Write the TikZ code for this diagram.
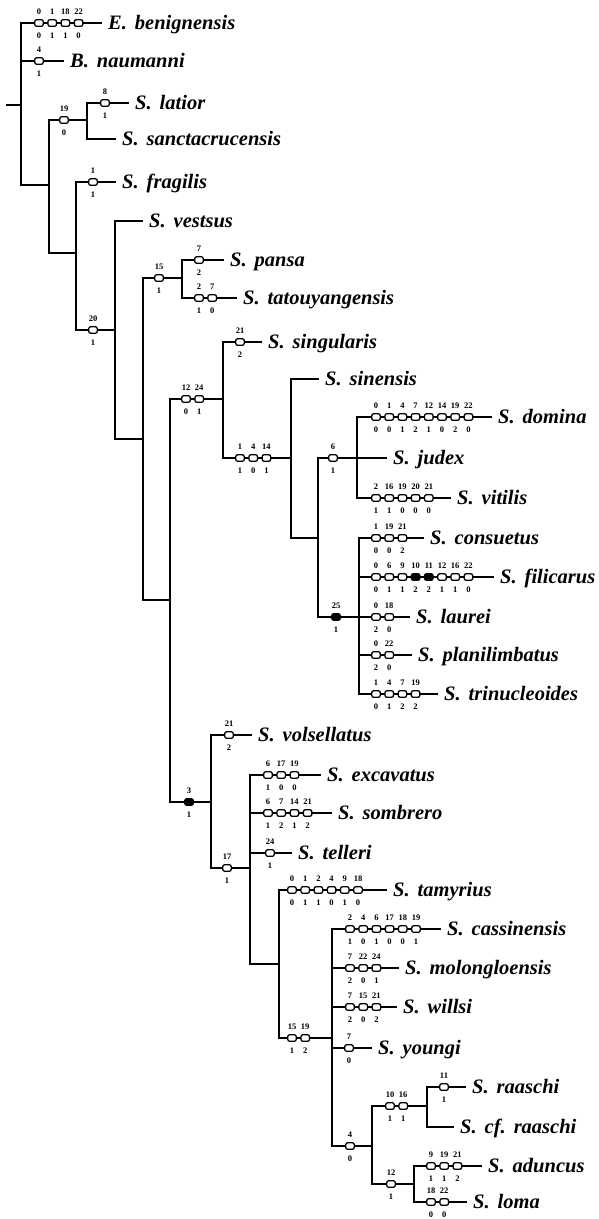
\documentclass[tikz,border=0pt]{standalone}
\usepackage{fontspec}
\setmainfont{Liberation Serif}
\usetikzlibrary{backgrounds}
\newcommand{\gap}{\hspace{8pt}}
\newcommand{\crow}[4]{%
  \foreach \topn/\botn/\kind [count=\i] in {#4} {%
    \pgfmathsetmacro{\xx}{#2+13.2*(\i-1)}%
    \node[\kind] (#1\i) at (\xx,#3) {};
    \node[num] (#1t\i) at (\xx,#3-11.5) {\topn};
    \node[num] (#1b\i) at (\xx,#3+13) {\botn};
  }}
\begin{document}
\begin{tikzpicture}[
  x=1pt,y=-1pt,
  br/.style={line width=1.4pt, line cap=rect},
  ob/.style={draw, line width=1.3pt, fill=white, rounded corners=2pt, minimum width=8.5pt, minimum height=6.6pt, inner sep=0pt},
  fb/.style={ob, fill=black},
  num/.style={font=\fontsize{8.5}{8.5}\selectfont\bfseries, text height=5.8pt, text depth=0pt, inner sep=0pt},
  tx/.style={anchor=west, font=\fontsize{20.5}{20.5}\selectfont\bfseries\itshape, text height=13.2pt, text depth=0pt, inner ysep=0pt, inner xsep=7pt},
]
\useasboundingbox (0,0) rectangle (598,1219);

% ---- junction coordinates ----
\coordinate (r0) at (7,105);
\coordinate (r1) at (21,105);
\coordinate (ben-s) at (21,23);
\coordinate (nau-s) at (21,61);
\coordinate (v1b) at (21,185);
\coordinate (v2m) at (49,185);
\coordinate (nA-s) at (49,120);
\coordinate (v2b) at (49,253);
\coordinate (nA-e) at (87,120);
\coordinate (lat-s) at (87,103);
\coordinate (san-s) at (87,139);
\coordinate (fra-s) at (76,182);
\coordinate (v3m) at (76,253);
\coordinate (nB-s) at (76,330);
\coordinate (nB-e) at (115,330);
\coordinate (ves-s) at (115,221);
\coordinate (v4b) at (115,439);
\coordinate (v5m) at (143,439);
\coordinate (nC-s) at (143,278);
\coordinate (v5b) at (143,600);
\coordinate (nC-e) at (182,278);
\coordinate (pan-s) at (182,260);
\coordinate (tat-s) at (182,298);
\coordinate (v6m) at (170,600);
\coordinate (nD-s) at (170,399);
\coordinate (nH-s) at (170,802);
\coordinate (nD-e) at (223,399);
\coordinate (sing-s) at (223,342);
\coordinate (nE-s) at (223,458);
\coordinate (nE-e) at (291,458);
\coordinate (sin-s) at (291,379);
\coordinate (v8b) at (291,538);
\coordinate (v9m) at (318,538);
\coordinate (nF-s) at (318,458);
\coordinate (nG-s) at (318,617);
\coordinate (dom-s) at (357,417);
\coordinate (vit-s) at (357,498);
\coordinate (con-s) at (359,538);
\coordinate (tri-s) at (359,694);
\coordinate (fil-s) at (359,577);
\coordinate (pla-s) at (359,655);
\coordinate (nH-e) at (211,802);
\coordinate (vol-s) at (211,735);
\coordinate (nI-s) at (211,868);
\coordinate (nI-e) at (250,868);
\coordinate (exc-s) at (250,775);
\coordinate (som-s) at (250,813);
\coordinate (tel-s) at (250,853);
\coordinate (v12b) at (250,964);
\coordinate (v13m) at (279,964);
\coordinate (tam-s) at (279,890);
\coordinate (nJ-s) at (279,1038);
\coordinate (nJ-e) at (332,1038);
\coordinate (cas-s) at (332,929);
\coordinate (mol-s) at (332,968);
\coordinate (wil-s) at (332,1007);
\coordinate (you-s) at (332,1048);
\coordinate (nK-s) at (332,1146);
\coordinate (nK-e) at (372,1146);
\coordinate (nL-s) at (372,1106);
\coordinate (nM-s) at (372,1184);
\coordinate (nL-e) at (427,1106);
\coordinate (raa-s) at (427,1087);
\coordinate (cfr-s) at (427,1127);
\coordinate (nM-e) at (414,1184);
\coordinate (adu-s) at (414,1166);
\coordinate (lom-s) at (414,1202);

% ---- taxon labels ----
\node[tx] (ben) at (101,23) {E.\gap benignensis};
\node[tx] (nau) at (63,61) {B.\gap naumanni};
\node[tx] (lat) at (128,103) {S.\gap latior};
\node[tx] (san) at (115,139) {S.\gap sanctacrucensis};
\node[tx] (fra) at (115,182) {S.\gap fragilis};
\node[tx] (ves) at (142,221) {S.\gap vestsus};
\node[tx] (pan) at (223,260) {S.\gap pansa};
\node[tx] (tat) at (236,298) {S.\gap tatouyangensis};
\node[tx] (sing) at (261,342) {S.\gap singularis};
\node[tx] (sin) at (318,379) {S.\gap sinensis};
\node[tx] (dom) at (491,417) {S.\gap domina};
\node[tx] (jud) at (386,458) {S.\gap judex};
\node[tx] (vit) at (450,498) {S.\gap vitilis};
\node[tx] (con) at (423,538) {S.\gap consuetus};
\node[tx] (fil) at (493,577) {S.\gap filicarus};
\node[tx] (lau) at (409,617) {S.\gap laurei};
\node[tx] (pla) at (411,655) {S.\gap planilimbatus};
\node[tx] (tri) at (437,694) {S.\gap trinucleoides};
\node[tx] (vol) at (251,735) {S.\gap volsellatus};
\node[tx] (exc) at (320,775) {S.\gap excavatus};
\node[tx] (som) at (331,813) {S.\gap sombrero};
\node[tx] (tel) at (291,853) {S.\gap telleri};
\node[tx] (tam) at (386,890) {S.\gap tamyrius};
\node[tx] (cas) at (440,929) {S.\gap cassinensis};
\node[tx] (mol) at (398,968) {S.\gap molongloensis};
\node[tx] (wil) at (396,1007) {S.\gap willsi};
\node[tx] (you) at (371,1048) {S.\gap youngi};
\node[tx] (raa) at (465,1087) {S.\gap raaschi};
\node[tx] (cfr) at (453,1127) {S.\gap cf.\gap raaschi};
\node[tx] (adu) at (481,1166) {S.\gap aduncus};
\node[tx] (lom) at (466,1202) {S.\gap loma};

% ---- character boxes ----
\crow{ben}{39}{23}{0/0/ob,1/1/ob,18/1/ob,22/0/ob}
\crow{nau}{39}{61}{4/1/ob}
\crow{nA}{64}{120}{19/0/ob}
\crow{lat}{105}{103}{8/1/ob}
\crow{fra}{93}{182}{1/1/ob}
\crow{nB}{93}{330}{20/1/ob}
\crow{nC}{159}{278}{15/1/ob}
\crow{pan}{199}{260}{7/2/ob}
\crow{tat}{199}{298}{2/1/ob,7/0/ob}
\crow{nD}{186}{399}{12/0/ob,24/1/ob}
\crow{sing}{240}{342}{21/2/ob}
\crow{nE}{240}{458}{1/1/ob,4/0/ob,14/1/ob}
\crow{nF}{333}{458}{6/1/ob}
\crow{dom}{376}{417}{0/0/ob,1/0/ob,4/1/ob,7/2/ob,12/1/ob,14/0/ob,19/2/ob,22/0/ob}
\crow{vit}{376}{498}{2/1/ob,16/1/ob,19/0/ob,20/0/ob,21/0/ob}
\crow{nG}{336}{617}{25/1/fb}
\crow{con}{376}{538}{1/0/ob,19/0/ob,21/2/ob}
\crow{fil}{376}{577}{0/0/ob,6/1/ob,9/1/ob,10/2/fb,11/2/fb,12/1/ob,16/1/ob,22/0/ob}
\crow{lau}{376}{617}{0/2/ob,18/0/ob}
\crow{pla}{376}{655}{0/2/ob,22/0/ob}
\crow{tri}{376}{694}{1/0/ob,4/1/ob,7/2/ob,19/2/ob}
\crow{nH}{189}{802}{3/1/fb}
\crow{vol}{229}{735}{21/2/ob}
\crow{nI}{227}{868}{17/1/ob}
\crow{exc}{268}{775}{6/1/ob,17/0/ob,19/0/ob}
\crow{som}{268}{813}{6/1/ob,7/2/ob,14/1/ob,21/2/ob}
\crow{tel}{270}{853}{24/1/ob}
\crow{tam}{292}{890}{0/0/ob,1/1/ob,2/1/ob,4/0/ob,9/1/ob,18/0/ob}
\crow{nJ}{292}{1038}{15/1/ob,19/2/ob}
\crow{cas}{350}{929}{2/1/ob,4/0/ob,6/1/ob,17/0/ob,18/0/ob,19/1/ob}
\crow{mol}{350}{968}{7/2/ob,22/0/ob,24/1/ob}
\crow{wil}{350}{1007}{7/2/ob,15/0/ob,21/2/ob}
\crow{you}{349}{1048}{7/0/ob}
\crow{nK}{350}{1146}{4/0/ob}
\crow{nL}{390}{1106}{10/1/ob,16/1/ob}
\crow{raa}{444}{1087}{11/1/ob}
\crow{nM}{391}{1184}{12/1/ob}
\crow{adu}{431}{1166}{9/1/ob,19/1/ob,21/2/ob}
\crow{lom}{431}{1202}{18/0/ob,22/0/ob}

% ---- branches ----
\begin{scope}[on background layer]
\fill[white] (0,0) rectangle (598,1219);
\draw[br] (r0) -- (r1);
\draw[br] (ben-s) -- (v1b) -- (v2m);
\draw[br] (ben-s) -- (ben.west);
\draw[br] (nau-s) -- (nau.west);
\draw[br] (nA-s) -- (v2b) -- (v3m);
\draw[br] (nA-s) -- (nA-e);
\draw[br] (lat-s) -- (san-s);
\draw[br] (lat-s) -- (lat.west);
\draw[br] (san-s) -- (san.west);
\draw[br] (fra-s) -- (nB-s) -- (nB-e);
\draw[br] (fra-s) -- (fra.west);
\draw[br] (ves-s) -- (v4b) -- (v5m);
\draw[br] (ves-s) -- (ves.west);
\draw[br] (nC-s) -- (v5b) -- (v6m);
\draw[br] (nC-s) -- (nC-e);
\draw[br] (pan-s) -- (tat-s);
\draw[br] (pan-s) -- (pan.west);
\draw[br] (tat-s) -- (tat.west);
\draw[br] (nD-s) -- (nH-s) -- (nH-e);
\draw[br] (nD-s) -- (nD-e);
\draw[br] (sing-s) -- (nE-s) -- (nE-e);
\draw[br] (sing-s) -- (sing.west);
\draw[br] (sin-s) -- (v8b) -- (v9m);
\draw[br] (sin-s) -- (sin.west);
\draw[br] (nF-s) -- (nG-s) -- (lau.west);
\draw[br] (nF-s) -- (jud.west);
\draw[br] (dom-s) -- (vit-s);
\draw[br] (dom-s) -- (dom.west);
\draw[br] (vit-s) -- (vit.west);
\draw[br] (con-s) -- (tri-s);
\draw[br] (con-s) -- (con.west);
\draw[br] (fil-s) -- (fil.west);
\draw[br] (pla-s) -- (pla.west);
\draw[br] (tri-s) -- (tri.west);
\draw[br] (vol-s) -- (nI-s) -- (nI-e);
\draw[br] (vol-s) -- (vol.west);
\draw[br] (exc-s) -- (v12b) -- (v13m);
\draw[br] (exc-s) -- (exc.west);
\draw[br] (som-s) -- (som.west);
\draw[br] (tel-s) -- (tel.west);
\draw[br] (tam-s) -- (nJ-s) -- (nJ-e);
\draw[br] (tam-s) -- (tam.west);
\draw[br] (cas-s) -- (nK-s) -- (nK-e);
\draw[br] (cas-s) -- (cas.west);
\draw[br] (mol-s) -- (mol.west);
\draw[br] (wil-s) -- (wil.west);
\draw[br] (you-s) -- (you.west);
\draw[br] (nL-s) -- (nM-s) -- (nM-e);
\draw[br] (nL-s) -- (nL-e);
\draw[br] (raa-s) -- (cfr-s);
\draw[br] (raa-s) -- (raa.west);
\draw[br] (cfr-s) -- (cfr.west);
\draw[br] (adu-s) -- (lom-s);
\draw[br] (adu-s) -- (adu.west);
\draw[br] (lom-s) -- (lom.west);
\end{scope}
\end{tikzpicture}
\end{document}
